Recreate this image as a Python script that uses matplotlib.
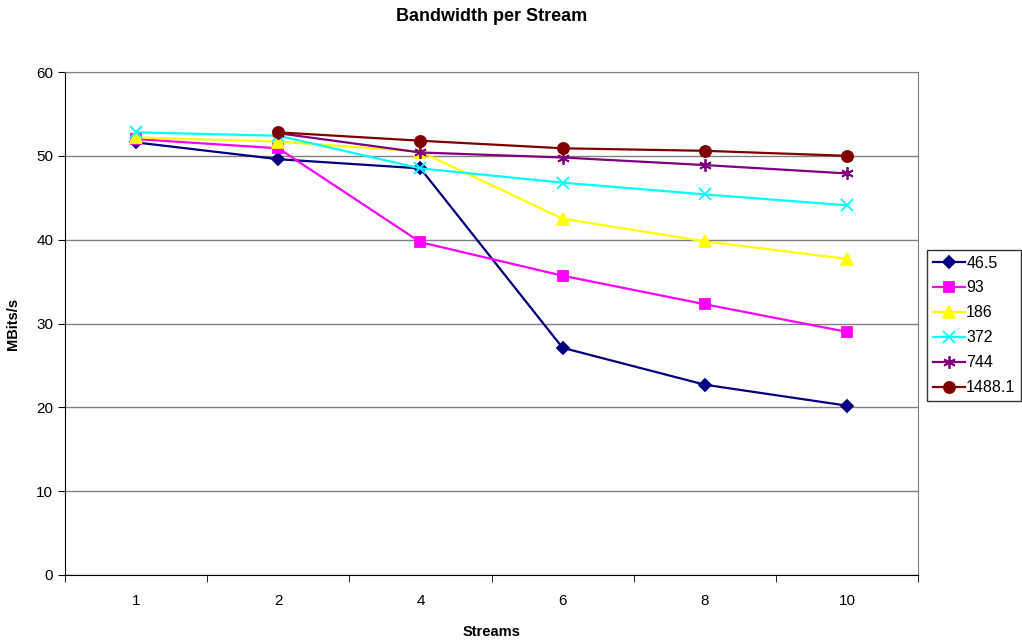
import matplotlib.pyplot as plt
import numpy as np

plt.rcParams['font.family'] = ['Liberation Sans', 'DejaVu Sans']

streams = ['1', '2', '4', '6', '8', '10']
series_names = ['46.5', '93', '186', '372', '744', '1488.1']
bw_46 = [51.6, 49.6, 48.5, 27.1, 22.7, 20.2]
bw_93 = [52.0, 50.9, 39.7, 35.7, 32.3, 29.0]
bw_186 = [52.2, 51.7, 50.5, 42.5, 39.8, 37.7]
bw_372 = [52.8, 52.4, 48.5, 46.8, 45.4, 44.1]
bw_744 = [np.nan, 52.7, 50.4, 49.8, 48.9, 47.9]
bw_1488 = [np.nan, 52.8, 51.8, 50.9, 50.6, 50.0]

colors = ['#000080', '#ff00ff', '#ffff00', '#00ffff', '#800080', '#800000']
markers = ['D', 's', '^', 'x', (6, 2, 0), 'o']
msizes = [6, 7, 8, 8, 9, 8]

fig = plt.figure(figsize=(10.22, 6.43), dpi=100)
ax = fig.add_axes([65/1022, 1-575/643, (918-65)/1022, (575-72)/643])

x = np.arange(len(streams))
data = [bw_46, bw_93, bw_186, bw_372, bw_744, bw_1488]
for vals, name, c, m, ms in zip(data, series_names, colors, markers, msizes):
    ax.plot(x, vals, color=c, lw=1.6, marker=m, ms=ms, mfc=c, mec=c,
            mew=1.3, label=name, zorder=3)

ax.set_xlim(-0.5, len(streams) - 0.5)
ax.set_ylim(0, 60)
ax.set_yticks(range(0, 61, 10))
ax.set_xticks(x)
ax.set_xticklabels(streams)
ax.set_xticks(np.arange(-0.5, len(streams), 1), minor=True)
ax.tick_params(axis='x', which='major', length=0, pad=14, labelsize=11)
ax.tick_params(axis='x', which='minor', length=5, direction='out')
ax.tick_params(axis='y', length=5, direction='out', labelsize=11)
ax.yaxis.grid(True, color='#808080', lw=1)
ax.set_axisbelow(True)
for s in ['top', 'right']:
    ax.spines[s].set_color('#808080')
for s in ['left', 'bottom']:
    ax.spines[s].set_color('black')

ax.set_title('Bandwidth per Stream', fontsize=13, fontweight='bold', pad=37)
ax.set_ylabel('MBits/s', fontsize=10.5, fontweight='bold', labelpad=12)
ax.set_xlabel('Streams', fontsize=10.5, fontweight='bold', labelpad=12)

leg = ax.legend(loc='upper left', bbox_to_anchor=(927/1022, 1-250/643),
                bbox_transform=fig.transFigure, fontsize=11.5, frameon=True,
                fancybox=False, edgecolor='black', borderpad=0.35,
                handlelength=2.0, handletextpad=0.1, labelspacing=0.62,
                borderaxespad=0)
leg.get_frame().set_linewidth(1)

fig.savefig('out.png', dpi=100)
